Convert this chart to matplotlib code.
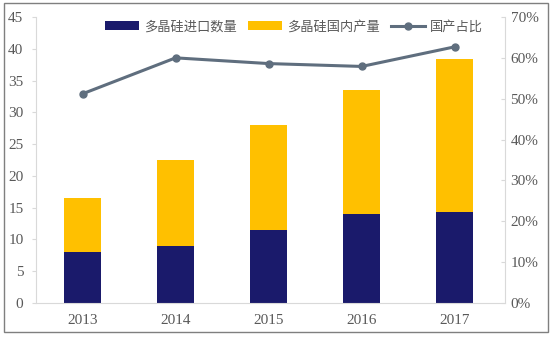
import matplotlib.pyplot as plt
from matplotlib.patches import Rectangle
from matplotlib.ticker import PercentFormatter

years = ["2013", "2014", "2015", "2016", "2017"]
imports = [8.0, 9.0, 11.5, 14.0, 14.3]
domestic = [8.5, 13.5, 16.5, 19.5, 24.1]
share = [51.2, 60.0, 58.6, 57.9, 62.7]

navy = "#1a1a6b"
gold = "#ffc000"
slate = "#5f6e7e"
grey_text = "#595959"
axis_grey = "#d9d9d9"

plt.rcParams["font.family"] = ["Liberation Serif", "Noto Sans CJK SC"]

fig = plt.figure(figsize=(5.5, 3.38), dpi=100)
ax = fig.add_axes([36 / 550, 35 / 338, 469 / 550, 286 / 338])
ax2 = ax.twinx()

x = range(len(years))
b1 = ax.bar(x, imports, width=0.4, color=navy, label="多晶硅进口数量", zorder=2)
b2 = ax.bar(x, domestic, width=0.4, bottom=imports, color=gold, label="多晶硅国内产量", zorder=2)
l1, = ax2.plot(x, share, color=slate, lw=2.2, marker="o", ms=5, label="国产占比")

ax.set_xlim(-0.5, 4.54)
ax.set_ylim(0, 45)
ax.set_yticks(range(0, 46, 5))
ax2.set_ylim(0, 70)
ax2.set_yticks(range(0, 71, 10))
ax2.yaxis.set_major_formatter(PercentFormatter(decimals=0))
ax.set_xticks(list(x))
ax.set_xticklabels(years)

for a in (ax, ax2):
    for s in ("top",):
        a.spines[s].set_visible(False)
    for s in ("left", "right", "bottom"):
        a.spines[s].set_color(axis_grey)
ax.spines["right"].set_visible(False)
ax2.spines["left"].set_visible(False)
ax2.spines["bottom"].set_visible(False)

ax.tick_params(axis="y", colors=grey_text, labelsize=11, length=3, color=axis_grey, pad=6)
ax.tick_params(axis="x", colors=grey_text, labelsize=11, length=0, pad=8)
ax2.tick_params(axis="y", colors=grey_text, labelsize=11, length=3, direction="in",
                color=axis_grey, pad=4)

leg = ax.legend([b1, b2, l1], ["多晶硅进口数量", "多晶硅国内产量", "国产占比"],
                loc="upper center", bbox_to_anchor=(0.55, 1.03), ncol=3, frameon=False,
                fontsize=9.5, handlelength=2.6, handletextpad=0.4, columnspacing=0.8,
                prop={"family": ["Noto Sans CJK SC"], "size": 9.5})
for t in leg.get_texts():
    t.set_color(grey_text)

fig.add_artist(Rectangle((4 / 550, 6 / 338), 544 / 550, 329 / 338, transform=fig.transFigure,
                         fill=False, edgecolor="#7f7f7f", lw=1))

fig.savefig("out.png")
